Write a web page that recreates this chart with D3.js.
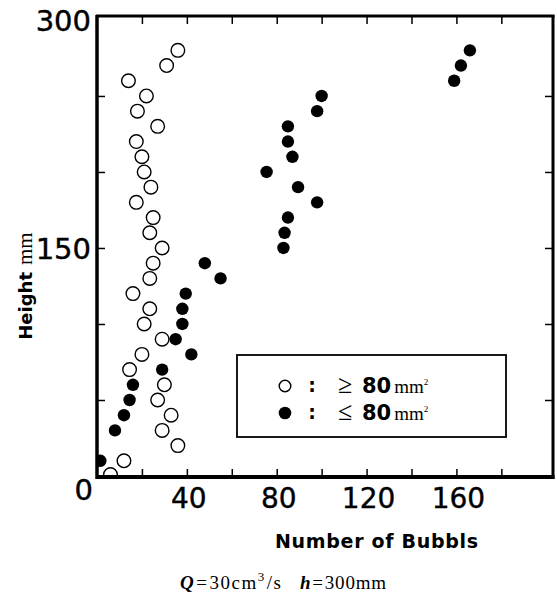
<!DOCTYPE html>
<html><head><meta charset="utf-8">
<script src="https://cdn.jsdelivr.net/npm/d3@7"></script>
<style>body{margin:0;background:#fff}</style>
</head><body>
<svg id="c" width="557" height="593"></svg>
<script>
// Heights (mm) and bubble counts
const openHeights = [280,270,260,250,240,230,220,210,200,190,180,170,160,150,140,130,120,110,100,90,80,70,60,50,40,30,20,10,1];
const openCounts  = [36,31,14,22,18,27,17.5,20,21,24,17.5,25,23.5,29,25,23.5,16,23.5,21,29,20,14.5,30,27,33,29,36,12,6];
const filledHeights = [280,270,260,250,240,230,220,210,200,190,180,170,160,150,140,130,120,110,100,90,80,70,60,50,40,30,10];
const filledCounts  = [166,162,159,100,98,85,85,87,75.5,89.5,98,85,83.5,83,48,55,39.5,38,38,35,42,29,16,14.5,12,8,1.5];
const xTicks = [40,80,120,160];
const xMinorTicks = [20,40,60,80,100,120,140,160,180];
const yTicks = [0,150,300];
const yMinorTicks = [50,100,150,200,250];

const svg = d3.select("#c");
const L=97, R=553, T=16, B=477;
const x = d3.scaleLinear().domain([0,203]).range([L,R]);
const y = d3.scaleLinear().domain([0,302.6]).range([476,T]);

svg.append("clipPath").attr("id","pc").append("rect")
  .attr("x",L).attr("y",T).attr("width",R-L).attr("height",B-T);

const g = svg.append("g").attr("clip-path","url(#pc)");
g.selectAll("circle.o").data(openHeights.map((h,i)=>({h,c:openCounts[i]})))
  .enter().append("circle")
  .attr("cx",d=>x(d.c)).attr("cy",d=>y(d.h)).attr("r",6.8)
  .attr("fill","#fff").attr("stroke","#000").attr("stroke-width",1.4);
g.selectAll("circle.f").data(filledHeights.map((h,i)=>({h,c:filledCounts[i]})))
  .enter().append("circle")
  .attr("cx",d=>x(d.c)).attr("cy",d=>y(d.h)).attr("r",6.2)
  .attr("fill","#000");

// ticks (inward) on all four sides using d3 axes
const tl = 8;
svg.append("g").attr("transform",`translate(0,${B})`)
  .call(d3.axisTop(x).tickValues(xMinorTicks).tickSize(tl).tickFormat(""))
  .call(a=>a.select(".domain").remove()).selectAll("line").attr("stroke-width",1.5);
svg.append("g").attr("transform",`translate(0,${T})`)
  .call(d3.axisBottom(x).tickValues(xMinorTicks).tickSize(tl).tickFormat(""))
  .call(a=>a.select(".domain").remove()).selectAll("line").attr("stroke-width",1.5);
svg.append("g").attr("transform",`translate(${L},0)`)
  .call(d3.axisRight(y).tickValues(yMinorTicks).tickSize(tl).tickFormat(""))
  .call(a=>a.select(".domain").remove()).selectAll("line").attr("stroke-width",1.5);
svg.append("g").attr("transform",`translate(${R},0)`)
  .call(d3.axisLeft(y).tickValues(yMinorTicks).tickSize(tl).tickFormat(""))
  .call(a=>a.select(".domain").remove()).selectAll("line").attr("stroke-width",1.5);

// frame
svg.append("line").attr("x1",L).attr("x2",L).attr("y1",T-1).attr("y2",B+2).attr("stroke","#000").attr("stroke-width",3.5);
svg.append("line").attr("x1",L-1).attr("x2",R+1.5).attr("y1",B).attr("y2",B).attr("stroke","#000").attr("stroke-width",4);
svg.append("line").attr("x1",L-1).attr("x2",R+1.5).attr("y1",T).attr("y2",T).attr("stroke","#000").attr("stroke-width",3);
svg.append("line").attr("x1",R).attr("x2",R).attr("y1",T-1).attr("y2",B+2).attr("stroke","#000").attr("stroke-width",3);

// tick labels
const sans = "'DejaVu Sans', sans-serif";
svg.selectAll("text.yl").data(yTicks).enter().append("text")
  .attr("x",d=>d===0?93:91).attr("y",d=>d===0?500:y(d)+11)
  .attr("text-anchor","end").attr("font-family",sans).attr("font-size",29)
  .attr("stroke","#000").attr("stroke-width",0.4)
  .text(d=>d);
svg.selectAll("text.xl").data(xTicks).enter().append("text")
  .attr("x",d=>x(d)+2).attr("y",508)
  .attr("text-anchor","middle").attr("font-family",sans).attr("font-size",28)
  .attr("stroke","#000").attr("stroke-width",0.4)
  .text(d=>d);

// axis titles
const serif = "'Liberation Serif', serif";
const yt = svg.append("text").attr("transform","translate(32,286) rotate(-90)")
  .attr("text-anchor","middle");
yt.append("tspan").attr("font-family",sans).attr("font-weight","bold").attr("font-size",18).text("Height");
yt.append("tspan").attr("font-family",serif).attr("font-size",21).attr("dx",7).text("mm");

svg.append("text").attr("x",275).attr("y",548).attr("font-family",sans)
  .attr("font-weight","bold").attr("font-size",19).attr("textLength",203)
  .attr("lengthAdjust","spacing").text("Number of Bubbls");

// caption
const c1 = svg.append("text").attr("x",180).attr("y",589).attr("font-family",serif).attr("font-size",19);
c1.append("tspan").attr("font-style","italic").attr("font-weight","bold").text("Q");
c1.append("tspan").attr("dx",1).text("=");
c1.append("tspan").attr("dx",1).text("30cm");
c1.append("tspan").attr("font-size",13).attr("dy",-8).text("3");
c1.append("tspan").attr("dy",8).attr("dx",1).text("/s");
c1.attr("textLength",101).attr("lengthAdjust","spacing");
const c2 = svg.append("text").attr("x",300).attr("y",589).attr("font-family",serif).attr("font-size",19);
c2.append("tspan").attr("font-style","italic").attr("font-weight","bold").text("h");
c2.append("tspan").attr("dx",1).text("=");
c2.append("tspan").attr("dx",1).text("300mm");
c2.attr("textLength",86).attr("lengthAdjust","spacing");

// legend
svg.append("rect").attr("x",237).attr("y",355).attr("width",269).attr("height",82)
  .attr("fill","#fff").attr("stroke","#000").attr("stroke-width",1.8);
const legend = [{open:true, sym:"≥"},{open:false, sym:"≤"}];
const ly = [386, 413];
legend.forEach((d,i)=>{
  svg.append("circle").attr("cx",285).attr("cy",ly[i]).attr("r",d.open?5.8:6.3)
    .attr("fill",d.open?"#fff":"#000").attr("stroke","#000").attr("stroke-width",d.open?1.4:0);
  svg.append("text").attr("x",312).attr("y",ly[i]+6).attr("text-anchor","middle")
    .attr("font-family",sans).attr("font-weight","bold").attr("font-size",19).text(":");
  svg.append("text").attr("x",338).attr("y",ly[i]+7).attr("font-family",serif).attr("font-size",26).text(d.sym);
  const t = svg.append("text").attr("x",362).attr("y",ly[i]+7);
  t.append("tspan").attr("font-family",sans).attr("font-weight","bold").attr("font-size",21).text("80");
  t.append("tspan").attr("font-family",serif).attr("font-size",19).attr("dx",3).text("mm");
  t.append("tspan").attr("font-family",serif).attr("font-size",9).attr("dy",-8).text("2");
});
</script>
</body></html>
